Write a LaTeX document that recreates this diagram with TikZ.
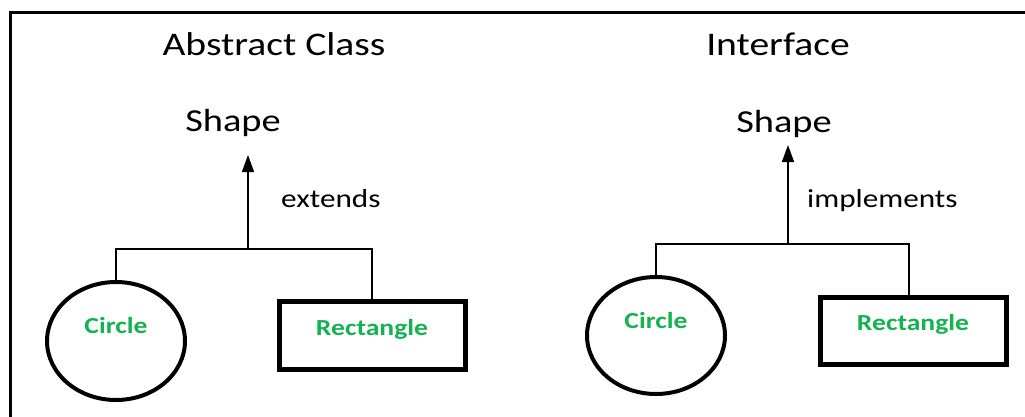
\documentclass[tikz,border=0pt]{standalone}
\usepackage{fontspec}
\setmainfont[FakeStretch=1.2]{Carlito}
\usetikzlibrary{shapes.geometric,arrows.meta}
\definecolor{labelgreen}{RGB}{20,178,80}
\tikzset{
  title/.style={font=\fontsize{33}{38}\selectfont, anchor=base, inner sep=0pt},
  parent/.style={font=\fontsize{32}{36}\selectfont, anchor=base, inner sep=0pt},
  relation/.style={font=\fontsize{26}{30}\selectfont, anchor=base west, inner sep=0pt},
  childtext/.style={font=\bfseries\fontsize{23}{26}\selectfont, text=labelgreen, inner sep=0pt},
  roundchild/.style={draw, ellipse, line width=4pt, inner sep=0pt},
  boxchild/.style={draw, rectangle, line width=5pt, inner sep=0pt, minimum width=186pt, minimum height=68pt},
  conn/.style={line width=1.6pt},
  uparrow/.style={conn, -{Triangle[length=17pt,width=12pt]}},
  frameline/.style={line width=3pt}
}
\begin{document}
\begin{tikzpicture}[x=1pt,y=-1pt]
  \useasboundingbox (0,0) rectangle (1025,416);
  \clip (0,0) rectangle (1025,416);
  % open frame along the top and left edges
  \draw[frameline] (10.5,430) -- (10.5,12) -- (1040,12);

  % ---- abstract class side ----
  \node[title] (titleA) at (274,55) {Abstract Class};
  \node[parent] (shapeA) at (233,131) {Shape};
  \node[relation] (extA) at (281,207) {extends};
  \node[roundchild, minimum width=138pt, minimum height=118pt,
        label={[childtext, yshift=15pt]center:Circle}] (circA) at (116,341) {};
  \node[boxchild, label={[childtext, yshift=6pt]center:Rectangle}] (rectA) at (372,335) {};
  \coordinate (jA) at (248,249);
  \coordinate (tipA) at (248,155);
  \draw[conn] (circA.north) |- (jA) -| (rectA.north);
  \draw[uparrow] (jA) -- (tipA);

  % ---- interface side ----
  \node[title] (titleB) at (778,55) {Interface};
  \node[parent] (shapeB) at (784,132) {Shape};
  \node[relation] (implB) at (807,207) {implements};
  \node[roundchild, minimum width=138pt, minimum height=117pt,
        label={[childtext, yshift=14.5pt]center:Circle}] (circB) at (656,335.5) {};
  \node[boxchild, minimum height=67pt, label={[childtext, yshift=6.5pt]center:Rectangle}] (rectB) at (913,330.5) {};
  \coordinate (jB) at (788,244);
  \coordinate (tipB) at (788,145);
  \draw[conn] (circB.north) |- (jB) -| ([xshift=-4pt]rectB.north);
  \draw[uparrow] (jB) -- (tipB);
\end{tikzpicture}
\end{document}
